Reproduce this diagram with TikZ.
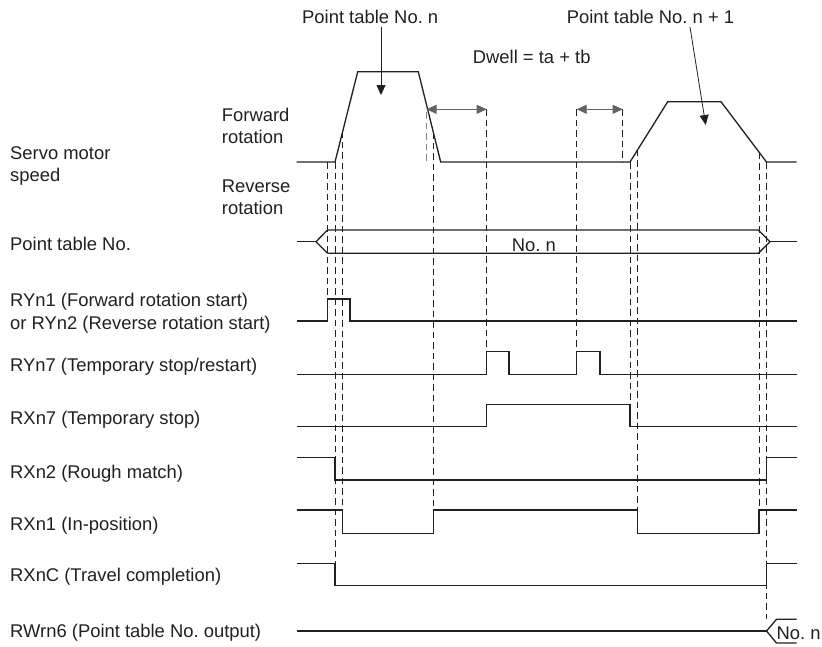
\documentclass[tikz,border=0pt]{standalone}
\usepackage{fontspec}
\setmainfont{Liberation Sans}
\usetikzlibrary{arrows.meta}
\frenchspacing
\definecolor{ink}{RGB}{35,31,32}
\definecolor{lightink}{RGB}{130,130,130}
\tikzset{
  lbl/.style={anchor=base west, inner sep=0pt, text=ink, font=\fontsize{18.4}{21.7}\selectfont\frenchspacing},
  sig/.style={draw=ink, line width=1.3pt, line join=miter},
  guide/.style={draw=ink, line width=0.9pt, dash pattern=on 6.5pt off 4pt},
  guidegray/.style={draw=lightink, line width=0.9pt, dash pattern=on 6.5pt off 4pt},
  callout/.style={draw=ink, line width=0.8pt, -{Triangle[length=10pt,width=9pt]}},
  dwell/.style={draw=ink!70, line width=0.8pt, {Triangle[length=10pt,width=9pt]}-{Triangle[length=10pt,width=9pt]}}
}
\begin{document}
\begin{tikzpicture}[x=1pt,y=-1pt]
\useasboundingbox (0,0) rectangle (822,646);

% ---------- left labels ----------
\node[lbl] (svA) at (10,159.7) {Servo motor};
\node[lbl] (svB) at (10,181) {speed};
\node[lbl] (fwA) at (221.7,121.4) {Forward};
\node[lbl] (fwB) at (221.7,143.6) {rotation};
\node[lbl] (rvA) at (221.7,192.4) {Reverse};
\node[lbl] (rvB) at (221.7,214.2) {rotation};
\node[lbl] (ptno) at (10,250.8) {Point table No.};
\node[lbl] (ry1A) at (10,306.4) {RYn1 (Forward rotation start)};
\node[lbl] (ry1B) at (10,329.7) {or RYn2 (Reverse rotation start)};
\node[lbl] (ry7) at (10,371.4) {RYn7 (Temporary stop/restart)};
\node[lbl] (rx7) at (10,424.7) {RXn7 (Temporary stop)};
\node[lbl] (rx2) at (10,478.1) {RXn2 (Rough match)};
\node[lbl] (rx1) at (10,530.4) {RXn1 (In-position)};
\node[lbl] (rxc) at (10,581.4) {RXnC (Travel completion)};
\node[lbl] (rw6) at (10,637.1) {RWrn6 (Point table No. output)};

% ---------- top labels ----------
\node[lbl] (ptn) at (302,23.4) {Point table No. n};
\node[lbl] (ptn1) at (566.7,23.4) {Point table No. n + 1};
\node[lbl] (dwl) at (472.7,63.4) {Dwell = ta + tb};
\node[lbl] (busn) at (511.7,251.4) {No. n};
\node[lbl] (outn) at (776.5,639) {No. n};

% ---------- guide (dashed) lines ----------
\draw[guide] (327.5,162) -- (327.5,299);
\draw[guide] (335,162) -- (335,563.3);
\draw[guide] (342.7,131.4) -- (342.7,510);
\draw[guidegray] (426,112) -- (426,162);
\draw[guide] (433.3,132.2) -- (433.3,510);
\draw[guide] (486.7,109.3) -- (486.7,351.7);
\draw[guide] (576.7,109.3) -- (576.7,351.7);
\draw[guide] (622.7,109.3) -- (622.7,162);
\draw[guide] (630,162) -- (630,404.3);
\draw[guide] (637.7,149.7) -- (637.7,510);
\draw[guide] (759,152.6) -- (759,510);
\draw[guide] (766.5,162) -- (766.5,619.3);

% ---------- servo motor speed ----------
\draw[sig] (296.7,162) -- (335,162) -- (357.7,71.7) -- (418.3,71.7) -- (440.7,162)
  -- (630,162) -- (667.7,101.7) -- (721,101.7) -- (766.5,162) -- (796.7,162);

% ---------- point table No. bus ----------
\draw[sig] (296.7,241.7) -- (316,241.7);
\draw[sig] (327.5,230) -- (316,241.7) -- (327.5,253.3);
\draw[sig] (327.5,230) -- (758.3,230) -- (770,241.7) -- (758.3,253.3) -- (327.5,253.3);
\draw[sig] (770,241.7) -- (796.7,241.7);

% ---------- RYn1 / RYn2 ----------
\draw[sig] (296.7,321) -- (327.5,321) -- (327.5,299) -- (350,299) -- (350,321) -- (796.7,321);

% ---------- RYn7 ----------
\draw[sig] (296.7,374.3) -- (486.7,374.3) -- (486.7,351.7) -- (509,351.7) -- (509,374.3)
  -- (576.7,374.3) -- (576.7,351.7) -- (600,351.7) -- (600,374.3) -- (796.7,374.3);

% ---------- RXn7 ----------
\draw[sig] (296.7,426.7) -- (486.7,426.7) -- (486.7,404.3) -- (630,404.3) -- (630,426.7) -- (796.7,426.7);

% ---------- RXn2 ----------
\draw[sig] (296.7,457.7) -- (335,457.7) -- (335,480) -- (766.5,480) -- (766.5,457.7) -- (796.7,457.7);

% ---------- RXn1 ----------
\draw[sig] (296.7,510) -- (342.7,510) -- (342.7,533.3) -- (433.3,533.3) -- (433.3,510)
  -- (637.7,510) -- (637.7,533.3) -- (759,533.3) -- (759,510) -- (796.7,510);

% ---------- RXnC ----------
\draw[sig] (296.7,563.3) -- (335,563.3) -- (335,585.7) -- (766.5,585.7) -- (766.5,563.3) -- (796.7,563.3);

% ---------- RWrn6 ----------
\draw[sig] (296.7,631) -- (766.5,631);
\draw[sig] (796.7,619.3) -- (776.5,619.3) -- (766.5,631) -- (776.5,643) -- (796.7,643);

% ---------- callouts ----------
\coordinate (tip1) at (381,95);
\draw[callout, shorten <=3pt] (ptn.south -| tip1) -- (tip1);
\coordinate (from2) at (690,27);
\coordinate (tip2) at (705.7,125);
\draw[callout] (from2) -- (tip2);

% ---------- dwell arrows ----------
\coordinate (d1a) at (426.5,109.3);
\coordinate (d1b) at (486.7,109.3);
\coordinate (d2a) at (576.7,109.3);
\coordinate (d2b) at (622.7,109.3);
\draw[dwell] (d1a) -- (d1b);
\draw[dwell] (d2a) -- (d2b);
\end{tikzpicture}
\end{document}
